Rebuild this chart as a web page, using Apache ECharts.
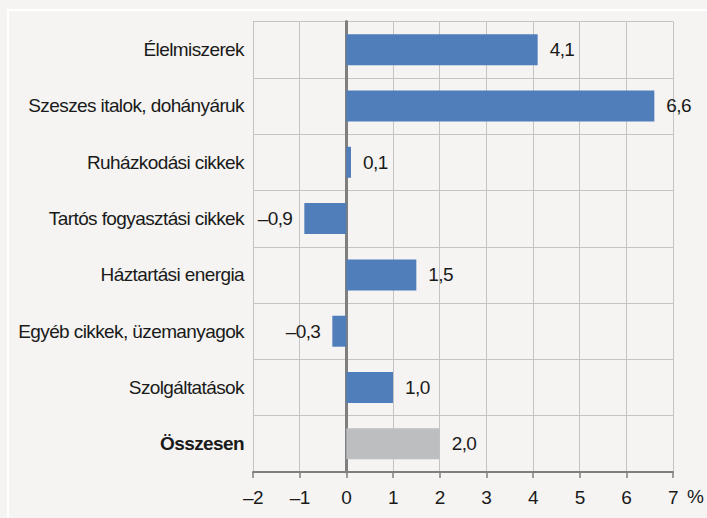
<!DOCTYPE html>
<html><head><meta charset="utf-8">
<script src="https://cdn.jsdelivr.net/npm/echarts@6/dist/echarts.min.js"></script>
<style>html,body{margin:0;padding:0;background:#f5f4f2;}#c{width:707px;height:518px;}#c text{letter-spacing:-0.6px;}</style>
</head><body><div id="c"></div>
<script>
var categories = ['Élelmiszerek','Szeszes italok, dohányáruk','Ruházkodási cikkek','Tartós fogyasztási cikkek','Háztartási energia','Egyéb cikkek, üzemanyagok','Szolgáltatások','Összesen'];
var values = [4.1, 6.6, 0.1, -0.9, 1.5, -0.3, 1.0, 2.0];
var xTicks = [-2,-1,0,1,2,3,4,5,6,7];
var FONT = "'Liberation Sans Narrow','Arial Narrow','Liberation Sans',Arial,sans-serif";
var FS = 19;
function fmt(v){ return (v<0?'\u2013':'') + Math.abs(v).toFixed(1).replace('.',','); }
var chart = echarts.init(document.getElementById('c'), null, {renderer:'svg'});
var data = values.map(function(v,i){
  var last = i === values.length-1;
  return {value:v, itemStyle:{color: last ? '#bcbec0' : '#4f7ebb'},
    label:{position: v<0 ? 'left' : 'right'}};
});
chart.setOption({
  backgroundColor:'#f5f4f2',
  animation:false,
  graphic:[
    {type:'polyline', shape:{points:[[8,518],[8,10],[707,10]]}, style:{stroke:'#ffffff', lineWidth:2, fill:null}},
    {type:'text', left:687, top:487, style:{text:'%', font:FS+'px '+FONT, fill:'#1a1a1a'}}
  ],
  grid:{left:253, right:34, top:21.5, bottom:46, containLabel:false},
  xAxis:{type:'value', min:xTicks[0], max:xTicks[xTicks.length-1], interval:1,
    axisLine:{show:true, onZero:false, lineStyle:{color:'#7f7f7f', width:2}},
    axisTick:{show:true, length:6, lineStyle:{color:'#7f7f7f', width:1.5}},
    axisLabel:{margin:16, color:'#1a1a1a', fontFamily:FONT, fontSize:FS,
      formatter:function(v){ return v<0 ? '\u2013'+Math.abs(v) : String(v); }},
    splitLine:{show:true, lineStyle:{color:'#c4c4c4', width:1}}
  },
  yAxis:{type:'category', inverse:true, data:categories,
    axisLine:{show:true, onZero:true, lineStyle:{color:'#7f7f7f', width:3}},
    axisTick:{show:false},
    axisLabel:{margin:9, color:'#1a1a1a', fontFamily:FONT, fontSize:FS, interval:0,
      formatter:function(v){ return v==='Összesen' ? '{b|'+v+'}' : v; },
      rich:{b:{fontWeight:'bold', fontFamily:FONT, fontSize:FS, color:'#1a1a1a'}}},
    splitLine:{show:true, lineStyle:{color:'#c4c4c4', width:1}}
  },
  series:[{type:'bar', data:data, barCategoryGap:'45%',
    label:{show:true, distance:12, color:'#1a1a1a', fontFamily:FONT, fontSize:FS,
      formatter:function(p){ return fmt(p.value); }}
  }]
});
</script></body></html>
